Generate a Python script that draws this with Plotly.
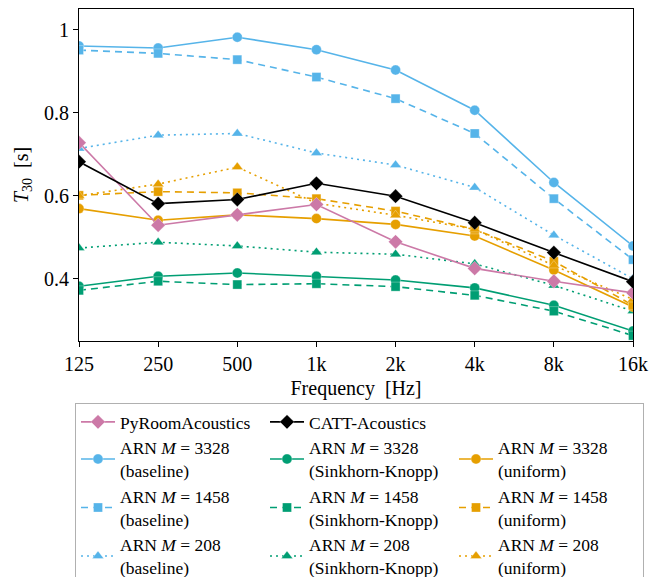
import plotly.graph_objects as go
import numpy as np

freqs = [125, 250, 500, 1000, 2000, 4000, 8000, 16000]
freq_labels = ["125", "250", "500", "1k", "2k", "4k", "8k", "16k"]

pyroom = [0.728, 0.529, 0.554, 0.579, 0.489, 0.425, 0.394, 0.366]
catt = [0.682, 0.581, 0.591, 0.630, 0.599, 0.535, 0.463, 0.393]

base_3328 = [0.961, 0.956, 0.982, 0.952, 0.903, 0.806, 0.632, 0.479]
base_1458 = [0.951, 0.943, 0.928, 0.886, 0.834, 0.750, 0.593, 0.446]
base_208 = [0.714, 0.746, 0.750, 0.703, 0.674, 0.620, 0.505, 0.400]

sk_3328 = [0.382, 0.406, 0.414, 0.406, 0.397, 0.378, 0.336, 0.274]
sk_1458 = [0.372, 0.394, 0.386, 0.388, 0.381, 0.360, 0.322, 0.263]
sk_208 = [0.474, 0.488, 0.479, 0.464, 0.459, 0.436, 0.384, 0.322]

uni_3328 = [0.569, 0.541, 0.554, 0.545, 0.531, 0.503, 0.421, 0.332]
uni_1458 = [0.601, 0.610, 0.607, 0.593, 0.563, 0.519, 0.442, 0.336]
uni_208 = [0.600, 0.628, 0.669, 0.582, 0.553, 0.519, 0.432, 0.350]

BLUE = "#56B4E9"
GREEN = "#009E73"
ORANGE = "#E69F00"
PINK = "#CC79A7"
BLACK = "#000000"

FONT = "'Liberation Serif', 'Times New Roman', serif"
AX = 20

fig = go.Figure()

def add(y, name, color, symbol, dash, rank, msize=10):
    fig.add_trace(go.Scatter(
        x=freqs, y=y, name=name, mode="lines+markers",
        line=dict(color=color, width=1.6, dash=dash),
        marker=dict(color=color, symbol=symbol, size=msize,
                    line=dict(color="rgba(255,255,255,0.5)", width=0.6)),
        legendrank=rank,
    ))

add(base_3328, "ARN <i>M</i> = 3328<br>(baseline)", BLUE, "circle", "solid", 4)
add(base_1458, "ARN <i>M</i> = 1458<br>(baseline)", BLUE, "square", "7px,5px", 7, 9)
add(base_208, "ARN <i>M</i> = 208<br>(baseline)", BLUE, "triangle-up", "2px,4px", 10)
add(sk_3328, "ARN <i>M</i> = 3328<br>(Sinkhorn-Knopp)", GREEN, "circle", "solid", 5)
add(sk_1458, "ARN <i>M</i> = 1458<br>(Sinkhorn-Knopp)", GREEN, "square", "7px,5px", 8, 9)
add(sk_208, "ARN <i>M</i> = 208<br>(Sinkhorn-Knopp)", GREEN, "triangle-up", "2px,4px", 11)
add(uni_3328, "ARN <i>M</i> = 3328<br>(uniform)", ORANGE, "circle", "solid", 6)
add(uni_1458, "ARN <i>M</i> = 1458<br>(uniform)", ORANGE, "square", "7px,5px", 9, 9)
add(uni_208, "ARN <i>M</i> = 208<br>(uniform)", ORANGE, "triangle-up", "2px,4px", 12)
add(pyroom, "PyRoomAcoustics", PINK, "diamond", "solid", 1, 11)
add(catt, "CATT-Acoustics", BLACK, "diamond", "solid", 2, 11)

# empty legend slot (third cell of first legend row)
fig.add_trace(go.Scatter(x=[None], y=[None], mode="lines", name=" ",
                         line=dict(color="rgba(0,0,0,0)", width=0),
                         legendrank=3, hoverinfo="skip"))

fig.update_layout(
    width=650, height=577,
    margin=dict(l=79, r=17, t=9, b=236, autoexpand=False),
    plot_bgcolor="white", paper_bgcolor="white",
    font=dict(family=FONT, size=AX, color="black"),
    showlegend=True,
    legend=dict(
        orientation="h",
        x=-0.0072, xanchor="left",
        y=-0.1867, yanchor="top",
        entrywidth=140, entrywidthmode="pixels",
        bordercolor="#b0b0b0", borderwidth=1,
        font=dict(family=FONT, size=17.5, color="black"),
        tracegroupgap=0,
        itemwidth=34,
    ),
)

fig.update_xaxes(
    type="log",
    range=[np.log10(125), np.log10(16000)],
    tickvals=freqs, ticktext=freq_labels,
    tickfont=dict(family=FONT, size=AX, color="black"),
    showgrid=False, zeroline=False,
    showline=True, linecolor="black", linewidth=1, mirror=True,
    ticks="outside", ticklen=5, tickcolor="black",
    title=dict(text="Frequency  [Hz]", standoff=6,
               font=dict(family=FONT, size=AX, color="black")),
)
fig.update_yaxes(
    range=[0.25, 1.05],
    tickvals=[0.4, 0.6, 0.8, 1.0], ticktext=["0.4", "0.6", "0.8", "1"],
    tickfont=dict(family=FONT, size=AX, color="black"),
    showgrid=False, zeroline=False,
    showline=True, linecolor="black", linewidth=1, mirror=True,
    ticks="outside", ticklen=5, tickcolor="black",
    title=dict(text="<i>T</i><sub>30</sub>  [s]", standoff=10,
               font=dict(family=FONT, size=AX, color="black")),
)

fig.write_html("out.html")
